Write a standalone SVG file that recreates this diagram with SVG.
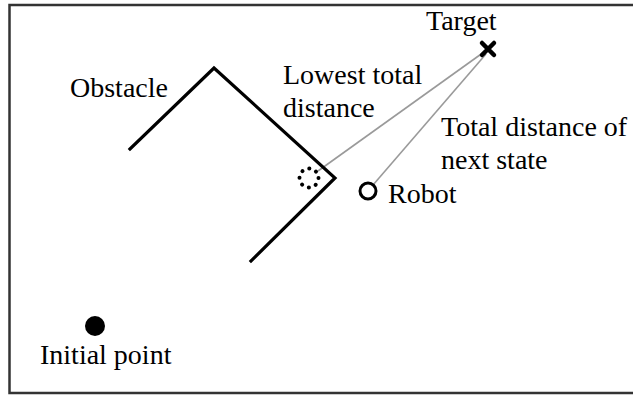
<svg xmlns="http://www.w3.org/2000/svg" width="633" height="396" viewBox="0 0 633 396">
  <style>
    .lbl { font-family: "Liberation Serif", "Times New Roman", Times, serif; font-size: 28px; fill: #000; }
    .wall { fill: none; stroke: #000; stroke-width: 3.2; stroke-linecap: square; stroke-linejoin: miter; }
    .ray { stroke: #9a9a9a; stroke-width: 1.6; fill: none; }
  </style>
  <rect x="0" y="0" width="633" height="396" fill="#fff"/>
  <!-- frame: open on the right -->
  <path d="M640 5 H9.5 V393 H640" fill="none" stroke="#333" stroke-width="2.5"/>

  <g id="connectors">
    <line class="ray" x1="484" y1="52" x2="318" y2="171"/>
    <line class="ray" x1="486" y1="54" x2="373" y2="185"/>
  </g>

  <g id="obstacle">
    <polyline class="wall" points="130,149 214,68 335,178 251,261"/>
    <text class="lbl" x="70" y="97">Obstacle</text>
  </g>

  <g id="best-state">
    <circle cx="309" cy="178" r="9.5" fill="none" stroke="#000" stroke-width="4" stroke-linecap="round" stroke-dasharray="0.1 7.36"/>
    <text class="lbl" x="283" y="84">Lowest total</text>
    <text class="lbl" x="283" y="117">distance</text>
  </g>

  <g id="target">
    <path d="M482 43 L494 55 M494 43 L482 55" stroke="#000" stroke-width="4.5" stroke-linecap="round"/>
    <text class="lbl" x="426" y="30">Target</text>
  </g>

  <g id="robot">
    <circle cx="368" cy="191" r="8" fill="none" stroke="#000" stroke-width="3"/>
    <text class="lbl" x="388" y="203">Robot</text>
  </g>

  <g id="next-state">
    <text class="lbl" x="441" y="136">Total distance of</text>
    <text class="lbl" x="441" y="169">next state</text>
  </g>

  <g id="initial-point">
    <circle cx="95" cy="326" r="10" fill="#000"/>
    <text class="lbl" x="40" y="364">Initial point</text>
  </g>
</svg>
